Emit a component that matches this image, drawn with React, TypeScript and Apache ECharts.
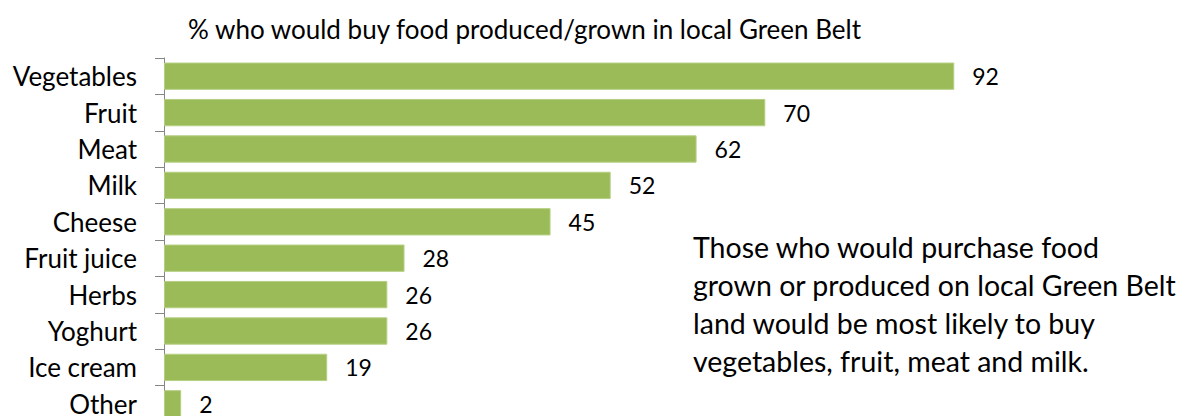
import React, { useEffect, useRef } from "react";
import * as echarts from "echarts";

const categories = ["Vegetables", "Fruit", "Meat", "Milk", "Cheese", "Fruit juice", "Herbs", "Yoghurt", "Ice cream", "Other"];
const values = [92, 70, 62, 52, 45, 28, 26, 26, 19, 2];
const titleText = "% who would buy food produced/grown in local Green Belt";
const noteLines = [
  "Those who would purchase food",
  "grown or produced on local Green Belt",
  "land would be most likely to buy",
  "vegetables, fruit, meat and milk.",
];

const FONT = "Lato, 'Open Sans', sans-serif";

export default function App() {
  const ref = useRef<HTMLDivElement>(null);
  useEffect(() => {
    document.body.style.margin = "0";
    const chart = echarts.init(ref.current!, null, { renderer: "svg" });
    chart.setOption({
      animation: false,
      backgroundColor: "#ffffff",
      title: {
        text: titleText,
        left: 183,
        top: 11,
        textStyle: { fontFamily: FONT, fontSize: 26, fontWeight: "normal", color: "#000" },
      },
      grid: { left: 164, top: 58, width: 859, height: 364, containLabel: false },
      xAxis: {
        type: "value",
        min: 0,
        max: 100,
        show: false,
      },
      yAxis: {
        type: "category",
        data: categories,
        inverse: true,
        axisLine: { show: true, lineStyle: { color: "#868686", width: 1 } },
        axisTick: { show: true, length: 9, lineStyle: { color: "#868686" } },
        axisLabel: { margin: 27, fontFamily: FONT, fontSize: 26, color: "#000" },
        splitLine: { show: false },
      },
      series: [
        {
          type: "bar",
          data: values,
          barCategoryGap: "25%",
          itemStyle: { color: "#9BBB59", borderColor: "#b5cf82", borderWidth: 1 },
          label: {
            show: true,
            position: "right",
            distance: 18,
            fontFamily: FONT,
            fontSize: 23,
            color: "#000",
          },
        },
      ],
      graphic: [
        {
          type: "text",
          left: 693,
          top: 228,
          style: {
            text: noteLines.join("\n"),
            fontFamily: FONT,
            fontSize: 28.5,
            lineHeight: 38,
            fill: "#000",
          },
        },
      ],
    });
    return () => chart.dispose();
  }, []);
  return (
    <div style={{ width: 1181, height: 416, overflow: "hidden", position: "relative" }}>
      <div ref={ref} style={{ width: 1181, height: 440 }} />
    </div>
  );
}
